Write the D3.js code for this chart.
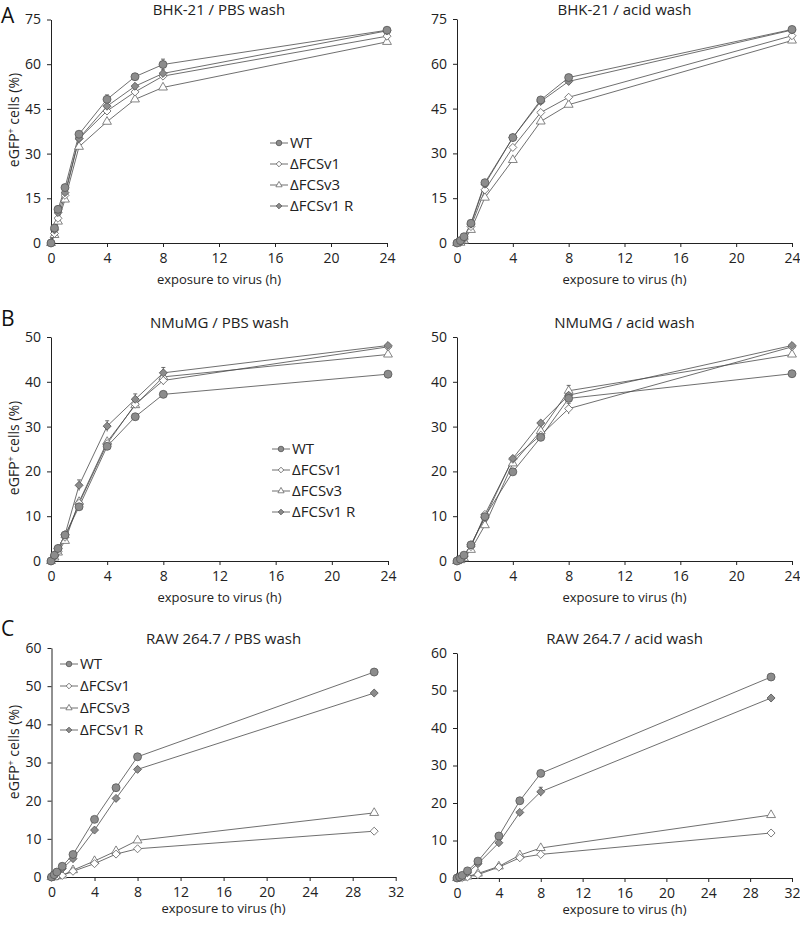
<!DOCTYPE html>
<html>
<head>
<meta charset="utf-8">
<script src="https://cdn.jsdelivr.net/npm/d3@7"></script>
<style>
  body { margin: 0; background: #fff; }
  svg { font-family: "Open Sans", sans-serif; }
</style>
</head>
<body>
<div id="chart"></div>
<script>
// time points (h)
var timesAB = [0, 0.25, 0.5, 1, 2, 4, 6, 8, 24];
var timesC = [0, 0.25, 0.5, 1, 2, 4, 6, 8, 30];
var strains = ["WT", "\u0394FCSv1", "\u0394FCSv3", "\u0394FCSv1 R"];

// BHK-21 / PBS wash
var bhkPbsWT  = [0, 5.0, 11.3, 18.6, 36.5, 48.2, 55.8, 59.9, 71.4];
var bhkPbsV1  = [0, 3.2, 8.3, 16.0, 35.0, 44.3, 50.7, 56.0, 69.4];
var bhkPbsV3  = [0, 2.7, 7.2, 14.6, 32.3, 40.7, 48.2, 52.2, 67.5];
var bhkPbsV1R = [0, 4.4, 10.2, 16.9, 35.1, 45.9, 52.6, 56.9, 71.2];
// BHK-21 / acid wash
var bhkAcidWT  = [0, 0.8, 2.1, 6.6, 20.2, 35.3, 47.9, 55.4, 71.5];
var bhkAcidV1  = [0, 0.2, 1.2, 5.5, 17.8, 32.0, 43.7, 48.8, 69.4];
var bhkAcidV3  = [0, 0.1, 0.8, 4.4, 15.2, 27.8, 40.7, 46.3, 67.8];
var bhkAcidV1R = [0, 0.5, 1.6, 6.3, 19.7, 35.3, 47.4, 54.1, 71.3];
// NMuMG / PBS wash
var nmuPbsWT  = [0, 1.3, 2.8, 5.8, 12.1, 25.6, 32.2, 37.2, 41.7];
var nmuPbsV1  = [0, 1.0, 2.1, 5.3, 12.9, 26.2, 35.0, 40.3, 47.8];
var nmuPbsV3  = [0, 0.8, 1.9, 4.5, 13.2, 26.6, 34.8, 41.1, 46.1];
var nmuPbsV1R = [0, 1.3, 2.8, 5.9, 16.9, 30.1, 36.1, 42.0, 48.1];
// NMuMG / acid wash
var nmuAcidWT  = [0, 0.4, 1.3, 3.6, 9.9, 19.9, 27.6, 36.3, 41.8];
var nmuAcidV1  = [0, 0.2, 1.0, 3.2, 10.4, 22.7, 28.1, 34.0, 47.8];
var nmuAcidV3  = [0, 0.2, 0.6, 2.5, 8.0, 21.8, 29.0, 38.0, 46.1];
var nmuAcidV1R = [0, 0.4, 1.1, 3.6, 9.7, 22.9, 30.8, 37.0, 48.1];
// RAW 264.7 / PBS wash
var rawPbsWT  = [0, 0.6, 1.3, 2.8, 5.9, 15.1, 23.4, 31.5, 53.7];
var rawPbsV1  = [0, 0, 0.2, 0.4, 1.5, 3.5, 6.0, 7.4, 12.0];
var rawPbsV3  = [0, 0, 0.2, 0.4, 1.8, 4.2, 6.8, 9.6, 16.8];
var rawPbsV1R = [0, 0.4, 1.1, 2.2, 4.8, 12.3, 20.6, 28.2, 48.2];
// RAW 264.7 / acid wash
var rawAcidWT  = [0, 0.3, 0.7, 1.9, 4.5, 11.2, 20.6, 27.9, 53.6];
var rawAcidV1  = [0, 0, 0.1, 0.3, 0.9, 2.9, 5.4, 6.3, 12.0];
var rawAcidV3  = [0, 0, 0.1, 0.4, 1.2, 3.1, 6.1, 8.0, 16.8];
var rawAcidV1R = [0, 0.2, 0.5, 1.4, 3.8, 9.4, 17.5, 23.0, 48.0];

// error bars (SD), same order as the time points
var noErr  = [0, 0, 0, 0, 0, 0, 0, 0, 0];
var bhkPbsWTErr  = [0, 0, 0, 0, 0.8, 1.5, 0.8, 1.8, 0.6];
var bhkPbsV1RErr = [0, 0, 0, 0, 0, 0, 0, 1.2, 0];
var nmuPbsV1RErr = [0, 0, 0, 0, 1.2, 1.2, 1.2, 1.2, 0];
var nmuPbsV1Err  = [0, 0, 0, 0, 0, 0, 0, 1.0, 0];
var nmuAcidV1Err = [0, 0, 0, 0, 0, 0, 0, 1.2, 0];
var nmuAcidV3Err = [0, 0, 0, 0, 0, 0, 0, 1.2, 0];
var rawAcidV1RErr = [0, 0, 0, 0, 0, 0, 0, 1.2, 0];

var ticksA = [0, 15, 30, 45, 60, 75];
var ticksB = [0, 10, 20, 30, 40, 50];
var ticksC = [0, 10, 20, 30, 40, 50, 60];
var ticksX24 = [0, 4, 8, 12, 16, 20, 24];
var ticksX32 = [0, 4, 8, 12, 16, 20, 24, 28, 32];

var lineColor = "#4a4a4a";
var greyFill = "#8c8c8c";

var svg = d3.select("#chart").append("svg")
    .attr("width", 800)
    .attr("height", 925);

// panel settings
var panels = [
  { title: "BHK-21 / PBS wash", letter: "A", letterY: 23, times: timesAB, xMax: 24, xTicks: ticksX24, yMax: 75, yTicks: ticksA,
    x0: 51, x1: 387, y0: 243, y1: 19.5, titleY: 15, xLabY: 284, yLab: 120, legend: [270, 143],
    series: [bhkPbsWT, bhkPbsV1, bhkPbsV3, bhkPbsV1R], errs: [bhkPbsWTErr, noErr, noErr, bhkPbsV1RErr] },
  { title: "BHK-21 / acid wash", times: timesAB, xMax: 24, xTicks: ticksX24, yMax: 75, yTicks: ticksA,
    x0: 457, x1: 792, y0: 243, y1: 19, titleY: 15, xLabY: 284,
    series: [bhkAcidWT, bhkAcidV1, bhkAcidV3, bhkAcidV1R], errs: [noErr, noErr, noErr, noErr] },
  { title: "NMuMG / PBS wash", letter: "B", letterY: 326, times: timesAB, xMax: 24, xTicks: ticksX24, yMax: 50, yTicks: ticksB,
    x0: 51, x1: 388, y0: 561, y1: 337, titleY: 328, xLabY: 602, yLab: 448, legend: [272, 449],
    series: [nmuPbsWT, nmuPbsV1, nmuPbsV3, nmuPbsV1R], errs: [noErr, nmuPbsV1Err, noErr, nmuPbsV1RErr] },
  { title: "NMuMG / acid wash", times: timesAB, xMax: 24, xTicks: ticksX24, yMax: 50, yTicks: ticksB,
    x0: 457, x1: 792, y0: 561, y1: 337, titleY: 328, xLabY: 602,
    series: [nmuAcidWT, nmuAcidV1, nmuAcidV3, nmuAcidV1R], errs: [noErr, nmuAcidV1Err, nmuAcidV3Err, noErr] },
  { title: "RAW 264.7 / PBS wash", letter: "C", letterY: 636, times: timesC, xMax: 32, xTicks: ticksX32, yMax: 60, yTicks: ticksC,
    x0: 51.5, x1: 395.7, y0: 877, y1: 648, titleY: 644, xLabY: 913, yLab: 752, legend: [60, 664],
    series: [rawPbsWT, rawPbsV1, rawPbsV3, rawPbsV1R], errs: [noErr, noErr, noErr, noErr] },
  { title: "RAW 264.7 / acid wash", times: timesC, xMax: 32, xTicks: ticksX32, yMax: 60, yTicks: ticksC,
    x0: 457, x1: 792, y0: 878, y1: 653, titleY: 644, xLabY: 914,
    series: [rawAcidWT, rawAcidV1, rawAcidV3, rawAcidV1R], errs: [noErr, noErr, noErr, rawAcidV1RErr] }
];

// marker for each strain: circle, open diamond, open triangle, grey diamond
function marker(sel, k, big) {
  var s = big ? 1 : 0.7;
  var sym;
  if (k === 0) sym = d3.symbol().type(d3.symbolCircle).size(50 * s * s);
  else if (k === 2) sym = d3.symbol().type(d3.symbolTriangle).size(34 * s * s);
  else sym = d3.symbol().type(d3.symbolSquare).size(32 * s * s);
  sel.attr("d", sym)
     .attr("fill", (k === 1 || k === 2) ? "#fff" : greyFill)
     .attr("stroke", (k === 1 || k === 2) ? "#666" : "#555")
     .attr("stroke-width", 0.8);
}

function drawPanel(p) {
  var x = d3.scaleLinear().domain([0, p.xMax]).range([p.x0, p.x1]);
  var y = d3.scaleLinear().domain([0, p.yMax]).range([p.y0, p.y1]);
  var g = svg.append("g");

  // axes
  var xAxis = g.append("g").attr("transform", "translate(0," + p.y0 + ")")
      .call(d3.axisBottom(x).tickValues(p.xTicks).tickSize(4).tickPadding(6).tickSizeOuter(0));
  var yAxis = g.append("g").attr("transform", "translate(" + p.x0 + ",0)")
      .call(d3.axisLeft(y).tickValues(p.yTicks).tickSize(4).tickPadding(6).tickSizeOuter(0));
  [xAxis, yAxis].forEach(function(a) {
    a.selectAll("path, line").attr("stroke", "#222").attr("stroke-width", 1);
    a.selectAll("text").attr("fill", "#222").style("font-size", "14px").style("font-family", "Open Sans");
  });

  // titles
  g.append("text").attr("x", (p.x0 + p.x1) / 2).attr("y", p.titleY)
    .attr("text-anchor", "middle").style("font-size", "15px").attr("fill", "#222")
    .text(p.title);
  g.append("text").attr("x", (p.x0 + p.x1) / 2).attr("y", p.xLabY)
    .attr("text-anchor", "middle").style("font-size", "13px").attr("fill", "#222")
    .text("exposure to virus (h)");

  if (p.letter) {
    svg.append("text").attr("x", 1).attr("y", p.letterY)
      .style("font-size", "21px").attr("fill", "#111").text(p.letter);
    var yl = g.append("text")
      .attr("transform", "translate(19," + p.yLab + ") rotate(-90)")
      .attr("text-anchor", "middle").style("font-size", "14px").attr("fill", "#222");
    yl.append("tspan").text("eGFP");
    yl.append("tspan").attr("dy", -5).style("font-size", "9px").text("+");
    yl.append("tspan").attr("dy", 5).text(" cells (%)");
  }

  var line = d3.line().x(function(d) { return x(d[0]); }).y(function(d) { return y(d[1]); });
  var order = [2, 1, 3, 0];

  // connecting lines
  order.forEach(function(k) {
    var pts = p.times.map(function(t, i) { return [t, p.series[k][i]]; });
    g.append("path").datum(pts).attr("d", line)
      .attr("fill", "none").attr("stroke", lineColor).attr("stroke-width", 0.8);
  });

  // error bars
  order.forEach(function(k) {
    p.times.forEach(function(t, i) {
      var e = p.errs[k][i];
      if (!e) return;
      var v = p.series[k][i];
      g.append("line").attr("x1", x(t)).attr("x2", x(t)).attr("y1", y(v - e)).attr("y2", y(v + e))
        .attr("stroke", lineColor).attr("stroke-width", 0.8);
      g.append("line").attr("x1", x(t) - 2).attr("x2", x(t) + 2).attr("y1", y(v + e)).attr("y2", y(v + e))
        .attr("stroke", lineColor).attr("stroke-width", 0.8);
    });
  });

  // markers
  order.forEach(function(k) {
    g.append("g").selectAll("path")
      .data(p.times.map(function(t, i) { return [t, p.series[k][i]]; }))
      .enter().append("path")
      .attr("transform", function(d) {
        return "translate(" + x(d[0]) + "," + y(d[1]) + ")" + ((k === 1 || k === 3) ? " rotate(45)" : "");
      })
      .call(marker, k, true);
  });

  // legend
  if (p.legend) {
    var lg = g.append("g").attr("transform", "translate(" + p.legend[0] + "," + p.legend[1] + ")");
    var step = p.letter === "C" ? 22 : 21;
    strains.forEach(function(s, k) {
      var row = lg.append("g").attr("transform", "translate(0," + k * step + ")");
      row.append("line").attr("x1", 0).attr("x2", 18).attr("stroke", lineColor).attr("stroke-width", 0.8);
      row.append("path").attr("transform", "translate(9,0)" + ((k === 1 || k === 3) ? " rotate(45)" : ""))
        .call(marker, k, false);
      row.append("text").attr("x", 20).attr("dy", "0.35em")
        .style("font-size", "15px").attr("fill", "#222").text(s);
    });
  }
}

panels.forEach(drawPanel);
</script>
</body>
</html>
